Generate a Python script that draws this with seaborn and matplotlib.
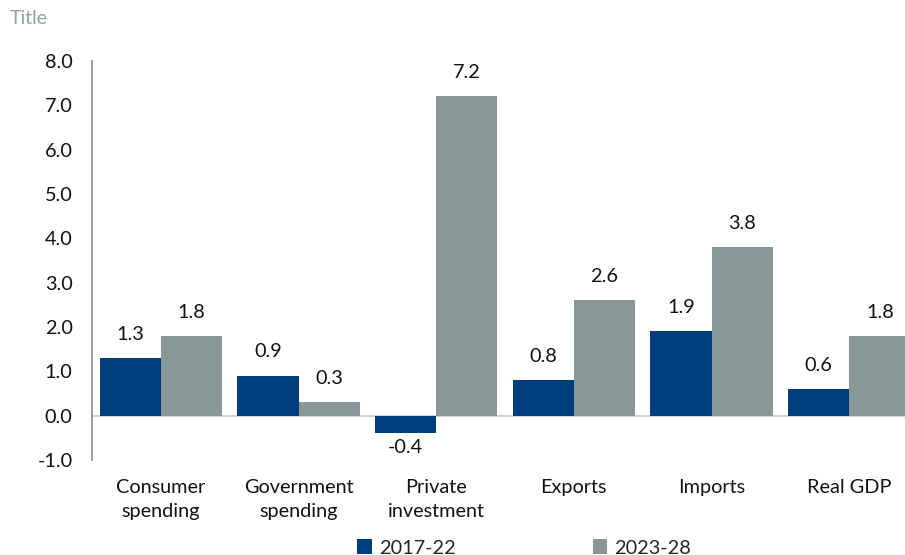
import matplotlib
matplotlib.use("Agg")
import matplotlib.pyplot as plt
import seaborn as sns
import pandas as pd

categories = ["Consumer\nspending", "Government\nspending", "Private\ninvestment",
              "Exports", "Imports", "Real GDP"]
period_a = "2017-22"
period_b = "2023-28"
values_a = [1.3, 0.9, -0.4, 0.8, 1.9, 0.6]
values_b = [1.8, 0.3, 7.2, 2.6, 3.8, 1.8]
y_ticks = [-1.0, 0.0, 1.0, 2.0, 3.0, 4.0, 5.0, 6.0, 7.0, 8.0]

df = pd.DataFrame({
    "category": categories * 2,
    "period": [period_a] * len(categories) + [period_b] * len(categories),
    "value": values_a + values_b,
})

sns.set_theme(style="white")
plt.rcParams["font.family"] = ["Lato", "DejaVu Sans"]

FS = 14.3
W, H = 905, 555
fig = plt.figure(figsize=(W / 100, H / 100), dpi=100)
ax = fig.add_axes([92 / W, 1 - 460 / H, (918 - 92) / W, (460 - 61) / H])

palette = {period_a: "#003d7c", period_b: "#8a9797"}
sns.barplot(data=df, x="category", y="value", hue="period", palette=palette,
            width=0.89, gap=0, saturation=1, ax=ax, legend=True, linewidth=0)

ax.set_ylim(-1.0, 8.0)
ax.set_xlim(-0.5, 5.5)
ax.set_yticks(y_ticks)
ax.set_yticklabels([f"{t:.1f}" for t in y_ticks], fontsize=FS, color="#111111")
ax.tick_params(axis="y", length=0, pad=14)
ax.set_xticks(range(len(categories)))
ax.set_xticklabels(categories, fontsize=FS, color="#111111")
ax.tick_params(axis="x", length=0, pad=14)
ax.set_xlabel("")
ax.set_ylabel("")

for side in ["top", "right", "bottom"]:
    ax.spines[side].set_visible(False)
ax.spines["left"].set_color("#8c8c8c")
ax.spines["left"].set_linewidth(1.2)
ax.axhline(0, color="#c8c8c8", linewidth=1.2, zorder=0.5)

for container in ax.containers:
    for bar in container:
        h = bar.get_height()
        x = bar.get_x() + bar.get_width() / 2
        if h >= 0:
            ax.annotate(f"{h:.1f}", (x, h), xytext=(0, 11), textcoords="offset points",
                        ha="center", va="bottom", fontsize=FS, color="#111111")
        else:
            ax.annotate(f"{h:.1f}", (x, h), xytext=(0, -4), textcoords="offset points",
                        ha="center", va="top", fontsize=FS, color="#111111")

leg = ax.legend(loc="center", bbox_to_anchor=(524 / W, 1 - 548 / H),
                bbox_transform=fig.transFigure, ncol=2, frameon=False,
                fontsize=FS, handlelength=0.75, handleheight=0.75, handletextpad=0.35,
                columnspacing=6.9, borderpad=0, borderaxespad=0)

fig.text(10 / W, 1 - 18 / H, "Title", fontsize=14, color="#95a0a4", va="center", ha="left")

# wider line spacing for the two-line category labels
fig.canvas.draw()
for lbl in ax.get_xticklabels():
    lbl.set_linespacing(1.45)

fig.savefig("out.png", dpi=100)
